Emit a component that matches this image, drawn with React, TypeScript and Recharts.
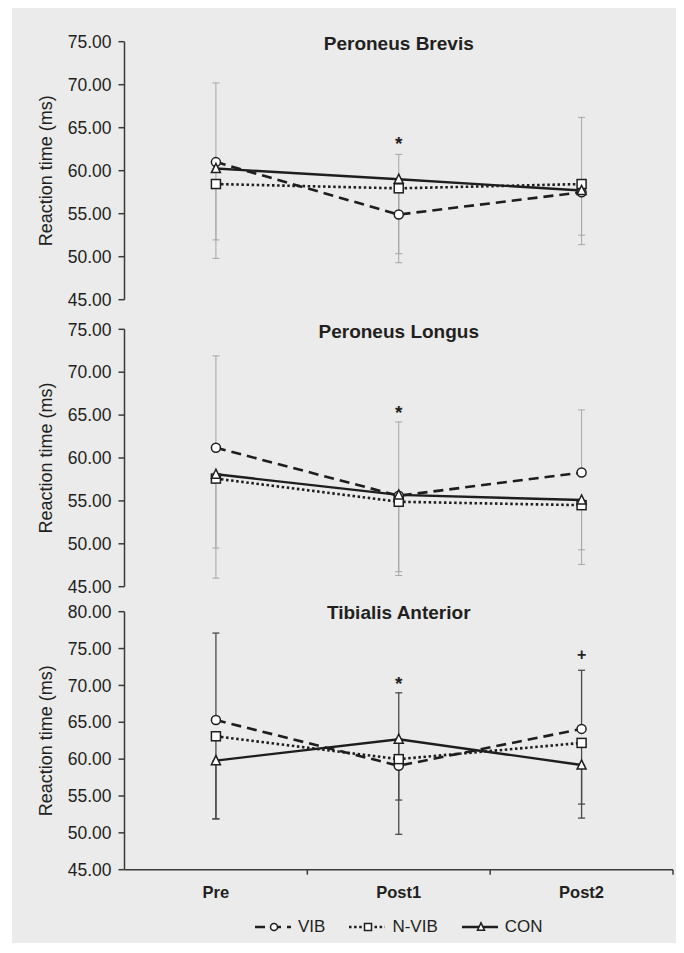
import React from "react";
import { LineChart, Line, XAxis, YAxis, ErrorBar, ReferenceDot, Legend } from "recharts";

const stages = ["Pre", "Post1", "Post2"];
const seriesNames = ["VIB", "N-VIB", "CON"];
const seriesKeys = ["vib", "nvib", "con"];

// Peroneus Brevis
const brevisVib = [61.0, 54.9, 57.5];
const brevisNvib = [58.45, 57.95, 58.45];
const brevisCon = [60.25, 59.0, 57.7];
const brevisVibUp = [9.2, 7.0, 8.7];
const brevisNvibDown = [8.65, 8.65, 7.05];
const brevisConDown = [8.3, 8.65, 5.2];
const brevisMarks = [{ stage: "Post1", y: 63.6, text: "*" }];

// Peroneus Longus
const longusVib = [61.2, 55.6, 58.3];
const longusNvib = [57.6, 54.9, 54.5];
const longusCon = [58.1, 55.7, 55.1];
const longusVibUp = [10.7, 8.6, 7.3];
const longusNvibDown = [11.6, 8.6, 6.9];
const longusConDown = [8.6, 8.95, 5.8];
const longusMarks = [{ stage: "Post1", y: 65.8, text: "*" }];

// Tibialis Anterior
const tibVib = [65.3, 59.1, 64.1];
const tibNvib = [63.1, 60.0, 62.2];
const tibCon = [59.8, 62.7, 59.2];
const tibVibUp = [11.8, 9.9, 7.95];
const tibNvibDown = [11.2, 10.2, 10.2];
const tibConDown = [7.9, 8.25, 5.3];
const tibMarks = [
  { stage: "Post1", y: 70.9, text: "*" },
  { stage: "Post2", y: 74.2, text: "+" },
];

const ticks75 = [45, 50, 55, 60, 65, 70, 75];
const ticks80 = [45, 50, 55, 60, 65, 70, 75, 80];

const FONT = '"Liberation Sans", Arial, sans-serif';
const INK = "#231f20";
const LINE = "#1e1e1e";
const AXIS = "#3a3a3a";

function buildRows(vib: number[], nvib: number[], con: number[], up: number[], dn1: number[], dn2: number[]) {
  return stages.map((stage, i) => ({
    stage,
    vib: vib[i],
    nvib: nvib[i],
    con: con[i],
    vibErr: [0, up[i]],
    nvibErr: [dn1[i], 0],
    conErr: [dn2[i], 0],
  }));
}

const brevisRows = buildRows(brevisVib, brevisNvib, brevisCon, brevisVibUp, brevisNvibDown, brevisConDown);
const longusRows = buildRows(longusVib, longusNvib, longusCon, longusVibUp, longusNvibDown, longusConDown);
const tibRows = buildRows(tibVib, tibNvib, tibCon, tibVibUp, tibNvibDown, tibConDown);

function Marker({ kind, cx, cy, s }: { kind: string; cx: number; cy: number; s: number }) {
  const common = { fill: "#fff", stroke: LINE, strokeWidth: 1.5 };
  if (kind === "circle") return <circle cx={cx} cy={cy} r={s / 2} {...common} />;
  if (kind === "square") return <rect x={cx - s / 2} y={cy - s / 2} width={s} height={s} {...common} />;
  const h = s * 0.9;
  return (
    <polygon
      points={`${cx},${cy - h / 2 - 1} ${cx - s / 2},${cy + h / 2} ${cx + s / 2},${cy + h / 2}`}
      {...common}
    />
  );
}

const seriesStyle: Record<string, { marker: string; dash?: string; width: number }> = {
  vib: { marker: "circle", dash: "10 6", width: 2.6 },
  nvib: { marker: "square", dash: "2.5 2.6", width: 2.6 },
  con: { marker: "triangle", width: 2.4 },
};

const dotFor = (kind: string) => (p: any) =>
  p.cx == null ? <g key={p.index} /> : (
    <g key={p.index}>
      <Marker kind={kind} cx={p.cx} cy={p.cy} s={9} />
    </g>
  );

function YTitle(props: any) {
  const vb = props.viewBox;
  const x = vb.x + 34;
  const y = vb.y + vb.height / 2;
  return (
    <text
      x={x}
      y={y}
      transform={`rotate(-90 ${x} ${y})`}
      textAnchor="middle"
      dominantBaseline="central"
      fontSize={18}
      fill={INK}
      fontFamily={FONT}
    >
      Reaction time (ms)
    </text>
  );
}

const PLOT_LEFT = 112.5;
const CHART_W = 672;
const RIGHT = 11;
const PLOT_W = CHART_W - PLOT_LEFT - RIGHT;
const STEP = PLOT_W / stages.length;

// category label plus a tick mark on the boundary to the right of each category
function StageTick(props: any) {
  const { x, y, payload } = props;
  const bx = x + STEP / 2;
  return (
    <g>
      <line x1={bx} y1={y} x2={bx} y2={y + 5} stroke={AXIS} strokeWidth={1.5} />
      <text
        x={x}
        y={y + 17}
        dy="0.71em"
        textAnchor="middle"
        fontSize={16.5}
        fontWeight={700}
        fill={INK}
        fontFamily={FONT}
      >
        {payload.value}
      </text>
    </g>
  );
}

function LegendContent(props: any) {
  const payload = [...(props.payload || [])].sort(
    (a: any, b: any) => seriesKeys.indexOf(a.dataKey) - seriesKeys.indexOf(b.dataKey)
  );
  return (
    <div style={{ display: "flex", justifyContent: "center", alignItems: "center", height: 20, fontFamily: FONT }}>
      {payload.map((p: any, i: number) => {
        const st = seriesStyle[p.dataKey];
        return (
          <div key={i} style={{ display: "flex", alignItems: "center", marginLeft: i ? 24 : 0 }}>
            <svg width={36} height={16}>
              <line x1={0} y1={8} x2={36} y2={8} stroke={LINE} strokeWidth={st.width} strokeDasharray={st.dash} />
              <Marker kind={st.marker} cx={19} cy={8} s={7} />
            </svg>
            <span style={{ marginLeft: 7, fontSize: 17, color: INK, lineHeight: "20px" }}>{p.value}</span>
          </div>
        );
      })}
    </div>
  );
}

type PanelProps = {
  title: string;
  rows: any[];
  domain: [number, number];
  ticks: number[];
  marks: { stage: string; y: number; text: string }[];
  errColor: string;
  top: number;
  height: number;
  margin: { top: number; bottom: number };
  titleCenter: number;
  bottomAxis?: boolean;
};

function Panel({ title, rows, domain, ticks, marks, errColor, top, height, margin, titleCenter, bottomAxis }: PanelProps) {
  const errW = bottomAxis ? 1.3 : 1;
  return (
    <>
      <div
        style={{
          position: "absolute",
          left: PLOT_LEFT,
          width: PLOT_W,
          top: titleCenter - 12,
          height: 24,
          lineHeight: "24px",
          textAlign: "center",
          fontSize: 19,
          fontWeight: 700,
          color: INK,
          zIndex: 2,
        }}
      >
        {title}
      </div>
      <div style={{ position: "absolute", left: 0, top }}>
        <LineChart
          width={CHART_W}
          height={height}
          data={rows}
          margin={{ top: margin.top, right: RIGHT, bottom: margin.bottom, left: 0 }}
        >
          <XAxis
            xAxisId="stage"
            dataKey="stage"
            type="category"
            padding={{ left: STEP / 2, right: STEP / 2 }}
            hide={!bottomAxis}
            axisLine={{ stroke: AXIS, strokeWidth: 1.5 }}
            tickLine={false}
            tickSize={0}
            tickMargin={0}
            height={31}
            interval={0}
            tick={<StageTick />}
          />
          <YAxis
            domain={domain}
            ticks={ticks}
            interval={0}
            width={PLOT_LEFT}
            tickFormatter={(v: number) => v.toFixed(2)}
            axisLine={{ stroke: AXIS, strokeWidth: 1.5 }}
            tickLine={{ stroke: AXIS, strokeWidth: 1.5 }}
            tickSize={6}
            tickMargin={7}
            tick={{ fontSize: 17.5, fill: INK, fontFamily: FONT }}
            label={{ content: YTitle }}
          />
          <Line
            xAxisId="stage"
            dataKey="vib"
            name={seriesNames[0]}
            stroke={LINE}
            strokeWidth={seriesStyle.vib.width}
            strokeDasharray={seriesStyle.vib.dash}
            dot={dotFor("circle")}
            activeDot={false}
            isAnimationActive={false}
          >
            <ErrorBar dataKey="vibErr" direction="y" width={3.5} stroke={errColor} strokeWidth={errW} />
          </Line>
          <Line
            xAxisId="stage"
            dataKey="nvib"
            name={seriesNames[1]}
            stroke={LINE}
            strokeWidth={seriesStyle.nvib.width}
            strokeDasharray={seriesStyle.nvib.dash}
            dot={dotFor("square")}
            activeDot={false}
            isAnimationActive={false}
          >
            <ErrorBar dataKey="nvibErr" direction="y" width={3.5} stroke={errColor} strokeWidth={errW} />
          </Line>
          <Line
            xAxisId="stage"
            dataKey="con"
            name={seriesNames[2]}
            stroke={LINE}
            strokeWidth={seriesStyle.con.width}
            dot={dotFor("triangle")}
            activeDot={false}
            isAnimationActive={false}
          >
            <ErrorBar dataKey="conErr" direction="y" width={3.5} stroke={errColor} strokeWidth={errW} />
          </Line>
          {marks.map((m, i) => (
            <ReferenceDot
              key={i}
              xAxisId="stage"
              x={m.stage}
              y={m.y}
              r={0}
              fill="none"
              stroke="none"
              ifOverflow="visible"
              label={{
                value: m.text,
                position: "center",
                dy: m.text === "*" ? 4 : 0,
                fontSize: m.text === "*" ? 19 : 16,
                fontWeight: 700,
                fill: INK,
                fontFamily: FONT,
              }}
            />
          ))}
          {bottomAxis && (
            <Legend
              content={<LegendContent />}
              verticalAlign="bottom"
              wrapperStyle={{ left: PLOT_LEFT, width: PLOT_W, bottom: 6.3, height: 20 }}
            />
          )}
        </LineChart>
      </div>
    </>
  );
}

export default function App() {
  return (
    <div
      style={{
        position: "relative",
        width: CHART_W,
        height: 935,
        marginLeft: 4,
        background: "#ebebeb",
        fontFamily: FONT,
        overflow: "hidden",
      }}
    >
      <Panel
        title="Peroneus Brevis"
        rows={brevisRows}
        domain={[45, 75]}
        ticks={ticks75}
        marks={brevisMarks}
        errColor="#a6a6a6"
        top={0}
        height={312}
        margin={{ top: 33.7, bottom: 20.3 }}
        titleCenter={36.3}
      />
      <Panel
        title="Peroneus Longus"
        rows={longusRows}
        domain={[45, 75]}
        ticks={ticks75}
        marks={longusMarks}
        errColor="#a6a6a6"
        top={300}
        height={296}
        margin={{ top: 21.3, bottom: 17.3 }}
        titleCenter={323.7}
      />
      <Panel
        title="Tibialis Anterior"
        rows={tibRows}
        domain={[45, 80]}
        ticks={ticks80}
        marks={tibMarks}
        errColor="#4a4a4a"
        top={590}
        height={345}
        margin={{ top: 13.7, bottom: 22.3 }}
        titleCenter={604.7}
        bottomAxis
      />
    </div>
  );
}
